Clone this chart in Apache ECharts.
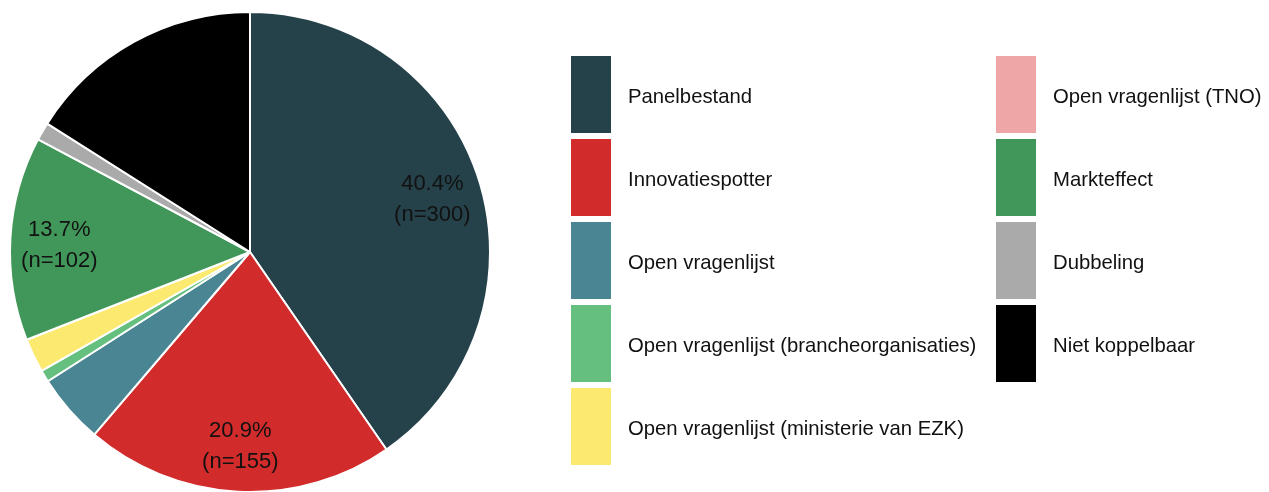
<!DOCTYPE html>
<html>
<head>
<meta charset="utf-8">
<script src="https://cdn.jsdelivr.net/npm/echarts@6/dist/echarts.min.js"></script>
<style>
  html, body { margin: 0; padding: 0; background: #ffffff; }
  #chart { width: 1269px; height: 492px; }
</style>
</head>
<body>
<div id="chart"></div>
<script>
// Herkomst van de bedrijven (aantallen per bron)
const categories = [
  'Panelbestand',
  'Innovatiespotter',
  'Open vragenlijst',
  'Open vragenlijst (brancheorganisaties)',
  'Open vragenlijst (ministerie van EZK)',
  'Open vragenlijst (TNO)',
  'Markteffect',
  'Dubbeling',
  'Niet koppelbaar'
];
const counts = [300, 155, 35, 6, 17, 0, 102, 9, 119];
const colors = ['#25424a', '#d22b2b', '#4a8593', '#65c07f', '#fce96f', '#eea6a6', '#41975a', '#aaaaaa', '#000000'];
// Alleen de grote segmenten krijgen een label
const labelled = ['Panelbestand', 'Innovatiespotter', 'Markteffect'];

const leftColumn = categories.slice(0, 5);
const rightColumn = categories.slice(5);

const total = counts.reduce((a, b) => a + b, 0);
const font = '"Liberation Sans", Arial, sans-serif';

const sliceData = categories.map((name, i) => ({
  name: name,
  value: counts[i],
  itemStyle: { color: colors[i] }
}));

const labelData = categories.map((name, i) => ({
  name: name,
  value: counts[i],
  label: { show: labelled.includes(name) }
}));

const legendBase = {
  orient: 'vertical',
  top: 56,
  padding: 0,
  icon: 'rect',
  itemWidth: 40,
  itemHeight: 77,
  itemGap: 6,
  selectedMode: false,
  itemStyle: { borderWidth: 0 },
  formatter: name => '{t|' + name + '}',
  textStyle: {
    fontFamily: font,
    fontSize: 20.3,
    color: '#111111',
    padding: [0, 0, 0, 12],
    rich: {
      t: {
        fontFamily: font,
        fontSize: 20.3,
        color: '#111111',
        padding: [6, 0, 0, 0]
      }
    }
  }
};

const chart = echarts.init(document.getElementById('chart'), null, { renderer: 'canvas' });
chart.setOption({
  backgroundColor: '#ffffff',
  animation: false,
  legend: [
    Object.assign({}, legendBase, { left: 571, data: leftColumn }),
    Object.assign({}, legendBase, { left: 996, data: rightColumn })
  ],
  series: [
    {
      type: 'pie',
      center: [250, 252],
      radius: [0, 240],
      startAngle: 90,
      clockwise: true,
      label: { show: false },
      labelLine: { show: false },
      emphasis: { disabled: true },
      itemStyle: { borderColor: '#ffffff', borderWidth: 2 },
      data: sliceData
    },
    {
      // transparante ring die alleen de labels draagt
      type: 'pie',
      center: [250, 252],
      radius: [136, 240],
      startAngle: 90,
      clockwise: true,
      silent: true,
      emphasis: { disabled: true },
      itemStyle: { color: 'rgba(0,0,0,0)', borderWidth: 0 },
      labelLine: { show: false },
      label: {
        position: 'inside',
        offset: [0, 4],
        fontFamily: font,
        fontSize: 22,
        lineHeight: 31,
        color: '#111111',
        formatter: p => (p.value / total * 100).toFixed(1) + '%\n(n=' + p.value + ')'
      },
      data: labelData
    }
  ]
});
</script>
</body>
</html>
